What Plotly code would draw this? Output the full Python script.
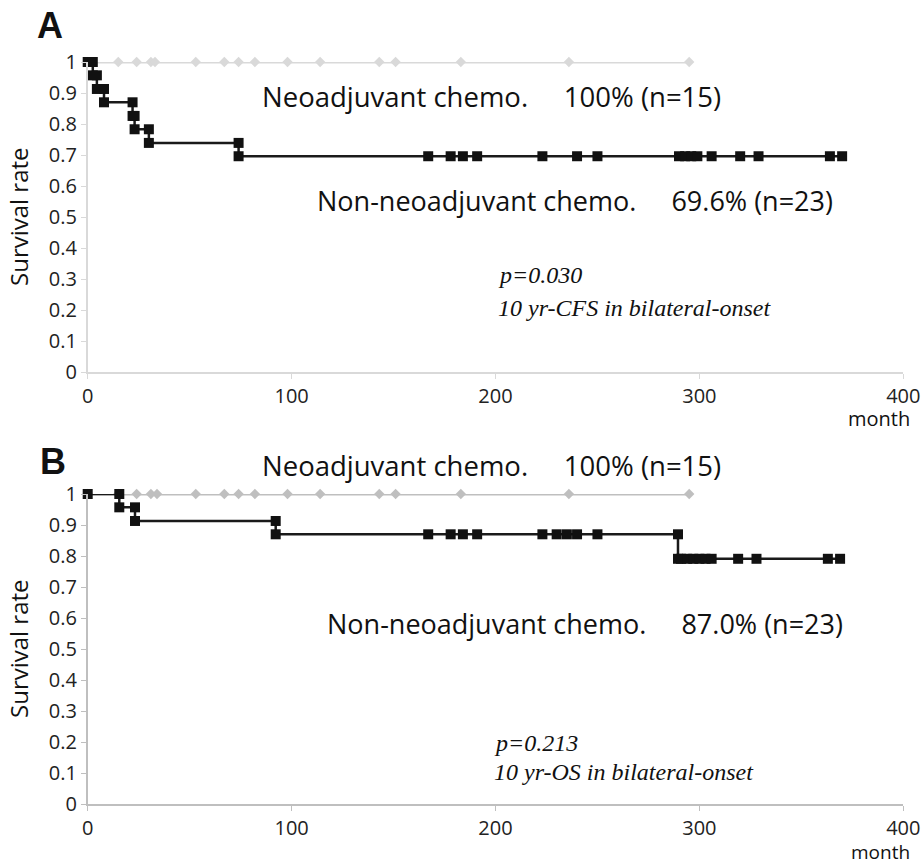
import plotly.graph_objects as go

# ---------------- data ----------------
# Panel A (CFS)
a_non_x = [0, 2.5, 2.5, 4.5, 4.5, 8, 8, 22, 22, 23, 23, 30, 30, 74, 74,
           167, 178, 184, 191, 223, 240, 250, 290, 293, 296, 299, 306, 320, 329, 364, 370]
a_non_y = [1, 1, 0.957, 0.957, 0.913, 0.913, 0.870, 0.870, 0.826, 0.826, 0.783, 0.783, 0.739, 0.739, 0.696,
           0.696, 0.696, 0.696, 0.696, 0.696, 0.696, 0.696, 0.696, 0.696, 0.696, 0.696, 0.696, 0.696, 0.696, 0.696, 0.696]
a_neo_x = [0, 15, 24, 31, 33, 53, 67, 74, 82, 98, 114, 143, 151, 183, 236, 295]
a_neo_y = [1] * len(a_neo_x)

# Panel B (OS)
b_non_x = [0, 15.5, 15.5, 23.2, 23.2, 92.2, 92.2,
           167, 178, 184, 191, 223, 230, 235, 240, 250, 289.5, 289.5,
           291, 294, 297, 300, 303, 306, 319, 328, 363, 369]
b_non_y = [1, 1, 0.957, 0.957, 0.913, 0.913, 0.870,
           0.870, 0.870, 0.870, 0.870, 0.870, 0.870, 0.870, 0.870, 0.870, 0.870, 0.791,
           0.791, 0.791, 0.791, 0.791, 0.791, 0.791, 0.791, 0.791, 0.791, 0.791]
b_neo_x = [0, 15, 24, 31, 34, 53, 67, 74, 82, 98, 114, 143, 151, 183, 236, 295]
b_neo_y = [1] * len(b_neo_x)

y_ticks = [0, 0.1, 0.2, 0.3, 0.4, 0.5, 0.6, 0.7, 0.8, 0.9, 1]
y_tick_labels = ["0", "0.1", "0.2", "0.3", "0.4", "0.5", "0.6", "0.7", "0.8", "0.9", "1"]
x_ticks = [0, 100, 200, 300, 400]
x_tick_labels = ["0", "100", "200", "300", "400"]

W, H = 921, 867
def px(x):
    return x / W
def py(y):
    return 1 - y / H

fig = go.Figure()

# Panel A
fig.add_trace(go.Scatter(x=a_neo_x, y=a_neo_y, mode="lines+markers", xaxis="x", yaxis="y",
                         line=dict(color="#d9d9d9", width=3),
                         marker=dict(symbol="diamond", size=8, color="#d9d9d9"),
                         cliponaxis=False, showlegend=False))
fig.add_trace(go.Scatter(x=a_non_x, y=a_non_y, mode="lines+markers", xaxis="x", yaxis="y",
                         line=dict(color="#1a1a1a", width=2.5),
                         marker=dict(symbol="square", size=10, color="#111111"),
                         cliponaxis=False, showlegend=False))
# Panel B
fig.add_trace(go.Scatter(x=b_neo_x, y=b_neo_y, mode="lines+markers", xaxis="x2", yaxis="y2",
                         line=dict(color="#bfbfbf", width=3),
                         marker=dict(symbol="diamond", size=8, color="#bfbfbf"),
                         cliponaxis=False, showlegend=False))
fig.add_trace(go.Scatter(x=b_non_x, y=b_non_y, mode="lines+markers", xaxis="x2", yaxis="y2",
                         line=dict(color="#1a1a1a", width=2.5),
                         marker=dict(symbol="square", size=10, color="#111111"),
                         cliponaxis=False, showlegend=False))

tickfont = dict(family="Open Sans, DejaVu Sans, sans-serif", size=20, color="#222222")
xd = [px(87.7), px(903.3)]

def xaxis(anchor, axcolor):
    return dict(domain=xd, range=[0, 400], anchor=anchor, tickvals=x_ticks, ticktext=x_tick_labels,
                showgrid=False, zeroline=False, showline=True, linecolor=axcolor, linewidth=1.5,
                ticks="outside", ticklen=5, tickcolor=axcolor, tickfont=tickfont, fixedrange=True,
                automargin=False)

def yaxis(anchor, dom, axcolor):
    return dict(domain=dom, range=[0, 1], anchor=anchor, tickvals=y_ticks, ticktext=y_tick_labels,
                showgrid=False, zeroline=False, showline=True, linecolor=axcolor, linewidth=1.5,
                ticks="outside", ticklen=5, tickcolor=axcolor, tickfont=tickfont, fixedrange=True,
                automargin=False)

fig.update_layout(
    width=W, height=H, margin=dict(l=0, r=0, t=0, b=0, autoexpand=False),
    paper_bgcolor="white", plot_bgcolor="white",
    xaxis=xaxis("y", "#d9d9d9"),
    yaxis=yaxis("x", [py(372), py(62)], "#d9d9d9"),
    xaxis2=xaxis("y2", "#bfbfbf"),
    yaxis2=yaxis("x2", [py(804), py(494)], "#bfbfbf"),
)

ann = []
sans = "Open Sans, DejaVu Sans, sans-serif"
serif = "Liberation Serif, Times New Roman, serif"
SP = "&nbsp;" * 5

def text(x, y, s, size, family=sans, anchor="left", color="#111111", angle=0, italic=False, bold=False):
    t = s
    if italic:
        t = "<i>" + t + "</i>"
    if bold:
        t = "<b>" + t + "</b>"
    ann.append(dict(x=px(x), y=py(y), xref="paper", yref="paper", text=t, showarrow=False,
                    xanchor=anchor, yanchor="middle", textangle=angle,
                    font=dict(family=family, size=size, color=color)))

# panel letters
text(35, 25, "A", 36, family="Liberation Sans, Arial, sans-serif", color="#111111", bold=True)
text(38, 462, "B", 36, family="Liberation Sans, Arial, sans-serif", color="#111111", bold=True)

# Panel A texts
text(260, 96, "Neoadjuvant chemo." + SP + "100% (n=15)", 27.5)
text(315, 200, "Non-neoadjuvant chemo." + SP + "69.6% (n=23)", 27)
text(496, 275, "p=0.030", 24, family=serif, italic=True)
text(496, 308, "10 yr-CFS in bilateral-onset", 24, family=serif, italic=True)
text(18, 217, "Survival rate", 24, angle=-90, anchor="center")
text(912, 419, "month", 20, anchor="right")

# Panel B texts
text(260, 466, "Neoadjuvant chemo." + SP + "100% (n=15)", 27.5)
text(325, 623, "Non-neoadjuvant chemo." + SP + "87.0% (n=23)", 27)
text(492, 743, "p=0.213", 24, family=serif, italic=True)
text(492, 772, "10 yr-OS in bilateral-onset", 24, family=serif, italic=True)
text(18, 649, "Survival rate", 24, angle=-90, anchor="center")
text(912, 852, "month", 19, anchor="right")

fig.update_layout(annotations=ann)
fig.write_html("out.html", config={"displayModeBar": False},
               post_script="document.body.style.margin='0';document.body.style.overflow='hidden';")
